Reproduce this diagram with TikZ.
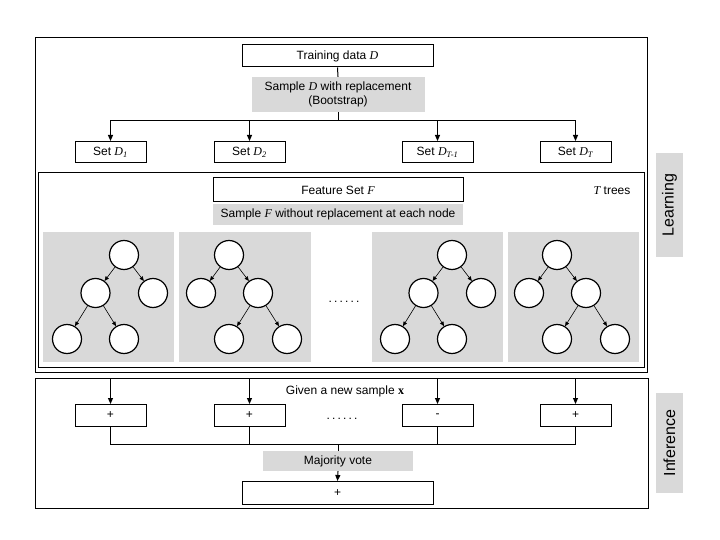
\documentclass[tikz,border=0pt]{standalone}
\usepackage{fontspec}
\setmainfont{Liberation Sans}
\newfontfamily\tnr{Liberation Serif}
\usetikzlibrary{arrows.meta}
\definecolor{panelgray}{HTML}{D9D9D9}
\newcommand\mi[1]{{\tnr\itshape #1}}
\newcommand\msb[1]{\textsubscript{\tnr\itshape #1}}
\newcommand\sixdots{.\hspace{2.2bp}.\hspace{2.2bp}.\hspace{2.2bp}.\hspace{2.2bp}.\hspace{2.2bp}.}
\newcommand\treeA[2]{%
  \node[nd] (#1a) at (#2+124,255) {};
  \node[nd] (#1b) at (#2+95.5,293) {};
  \node[nd] (#1c) at (#2+153,293) {};
  \node[nd] (#1d) at (#2+67,339) {};
  \node[nd] (#1e) at (#2+124,339) {};
  \draw[tedge] (#1a) -- (#1b);
  \draw[tedge] (#1a) -- (#1c);
  \draw[tedge] (#1b) -- (#1d);
  \draw[tedge] (#1b) -- (#1e);
}
\newcommand\treeB[2]{%
  \node[nd] (#1a) at (#2+229,255) {};
  \node[nd] (#1b) at (#2+201,293) {};
  \node[nd] (#1c) at (#2+258,293) {};
  \node[nd] (#1d) at (#2+229,339) {};
  \node[nd] (#1e) at (#2+287,339) {};
  \draw[tedge] (#1a) -- (#1b);
  \draw[tedge] (#1a) -- (#1c);
  \draw[tedge] (#1c) -- (#1d);
  \draw[tedge] (#1c) -- (#1e);
}
\begin{document}
\begin{tikzpicture}[x=1bp,y=-1bp,
  every node/.style={font=\fontsize{12bp}{14bp}\selectfont},
  wbox/.style={draw, line width=1bp, fill=white, inner sep=0pt},
  gbox/.style={fill=panelgray, inner sep=0pt},
  conn/.style={line width=1bp},
  tip/.style={conn, -{Triangle[length=6bp,width=5bp]}},
  nd/.style={circle, draw, line width=1.2bp, fill=white, minimum size=29bp, inner sep=0pt},
  tedge/.style={line width=0.6bp, -{Triangle[length=4.5bp,width=3.8bp]}},
  side/.style={fill=panelgray, inner sep=0pt, rotate=90, minimum height=27bp,
               font=\fontsize{16bp}{18bp}\selectfont},
  setbox/.style={wbox, minimum width=71bp, minimum height=21bp},
  votebox/.style={wbox, minimum width=71bp, minimum height=22bp}]
\useasboundingbox (0,0) rectangle (720,540);
\fill[white] (0,0) rectangle (720,540);

% frames
\draw[line width=1bp] (35.5,38) rectangle (647,372);
\draw[line width=1bp] (38,173) rectangle (644,367);
\draw[line width=1bp] (35.5,378) rectangle (648,508);

% side labels
\node[side, minimum width=104bp] (learn) at (669.5,205) {Learning};
\node[side, minimum width=100bp] (infer) at (669.5,443) {Inference};

% learning: bootstrap
\node[wbox, minimum width=191bp, minimum height=22bp] (train) at (337.5,56) {Training data \mi{D}};
\node[gbox, minimum width=173bp, minimum height=35bp, align=center] (samp) at (338,94.5)
  {Sample \mi{D} with replacement\\(Bootstrap)};
\coordinate (split) at (338,121);
\draw[conn] (train.south) -- (samp.north);
\draw[conn] (samp.south) -- (split);

\node[setbox] (s1) at (110.5,152) {Set \mi{D}\msb{1}};
\node[setbox] (s2) at (249.5,152) {Set \mi{D}\msb{2}};
\node[setbox] (s3) at (437.5,152) {Set \mi{D}\msb{T-1}};
\node[setbox] (s4) at (575.5,152) {Set \mi{D}\msb{T}};
\draw[tip] (split) -| (s1.north);
\draw[tip] (split) -| (s2.north);
\draw[tip] (split) -| (s3.north);
\draw[tip] (split) -| (s4.north);

% feature sets
\node[wbox, minimum width=250bp, minimum height=24bp] (feat) at (338,190) {Feature Set \mi{F}};
\node[gbox, minimum width=250bp, minimum height=21bp] (fsamp) at (338,214.5)
  {Sample \mi{F} without replacement at each node};
\node (ttrees) at (612,191) {\mi{T} trees};

% tree panels
\node[gbox, minimum width=131bp, minimum height=130bp] (p1) at (108.5,297) {};
\node[gbox, minimum width=132bp, minimum height=130bp] (p2) at (245,297) {};
\node[gbox, minimum width=131bp, minimum height=130bp] (p3) at (437,297) {};
\node[gbox, minimum width=131bp, minimum height=130bp] (p4) at (573.5,297) {};
\treeA{ta}{0}
\treeB{tb}{0}
\treeA{tc}{328}
\treeB{td}{328}
\node (tdots) at (344,302) {\sixdots};

% inference
\node (given) at (345,391) {Given a new sample {\tnr\bfseries x}};
\node[votebox] (v1) at (110.5,415.5) {+};
\node[votebox] (v2) at (249.5,415.5) {+};
\node[votebox] (v3) at (437.5,415.5) {-};
\node[votebox] (v4) at (575.5,415.5) {+};
\node (vdots) at (342,419) {\sixdots};
\coordinate (t1) at (110.5,378);
\coordinate (t2) at (249.5,378);
\coordinate (t3) at (437.5,378);
\coordinate (t4) at (575.5,378);
\draw[tip] (t1) -- (v1.north);
\draw[tip] (t2) -- (v2.north);
\draw[tip] (t3) -- (v3.north);
\draw[tip] (t4) -- (v4.north);
\coordinate (merge) at (338,444);
\draw[conn] (v1.south) |- (merge);
\draw[conn] (v2.south) |- (merge);
\draw[conn] (v3.south) |- (merge);
\draw[conn] (v4.south) |- (merge);
\node[gbox, minimum width=150bp, minimum height=20bp] (maj) at (338,461) {Majority vote};
\node[wbox, minimum width=191bp, minimum height=23bp] (final) at (337.5,493) {+};
\draw[conn] (merge) -- (maj.north);
\draw[tip] (maj.south) -- (final.north);
\end{tikzpicture}
\end{document}
